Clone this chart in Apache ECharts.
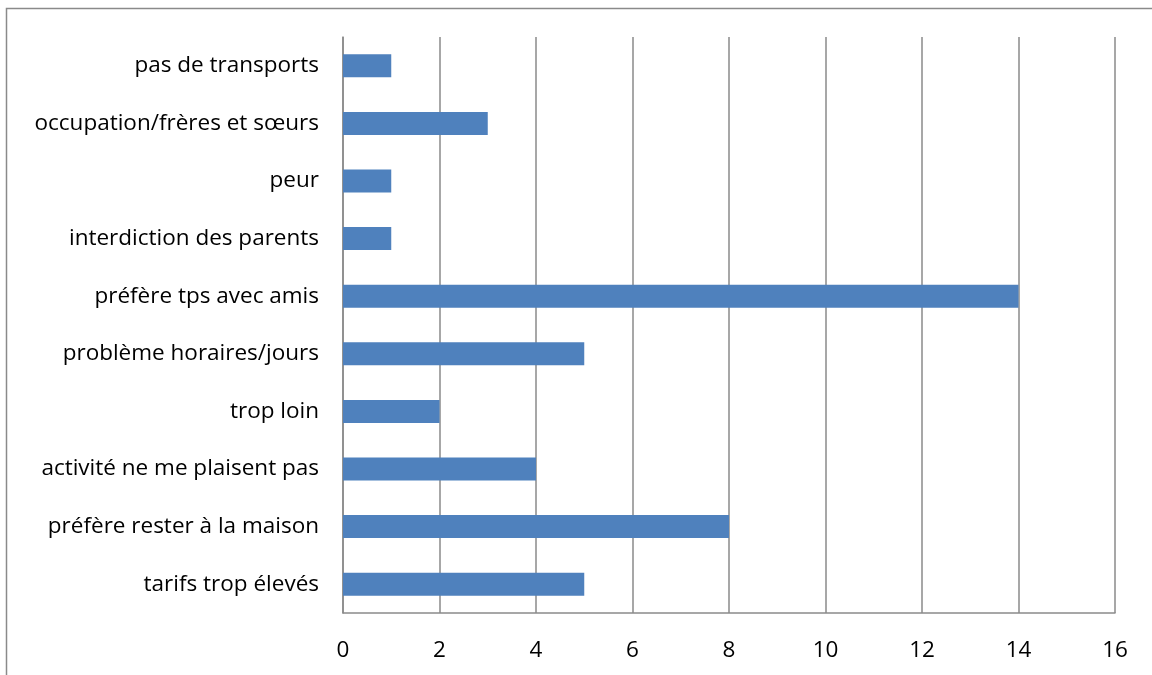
<!DOCTYPE html>
<html><head><meta charset="utf-8">
<script src="https://cdn.jsdelivr.net/npm/echarts@6/dist/echarts.min.js"></script>
<style>html,body{margin:0;padding:0;background:#fff}#c{width:1152px;height:675px}</style>
</head><body><div id="c"></div>
<script>
const categories = ["tarifs trop élevés","préfère rester à la maison","activité ne me plaisent pas","trop loin","problème horaires/jours","préfère tps avec amis","interdiction des parents","peur","occupation/frères et sœurs","pas de transports"];
const values = [5,8,4,2,5,14,1,1,3,1];
const xTicks = {min:0,max:16,interval:2};
const chart = echarts.init(document.getElementById('c'));
chart.setOption({
  animation:false,
  graphic:[{type:'rect',shape:{x:6.5,y:8.5,width:1160,height:700},style:{fill:'none',stroke:'#8a8a8a',lineWidth:1.5}}],
  grid:{left:343,right:37,top:37,bottom:62},
  xAxis:{type:'value',min:xTicks.min,max:xTicks.max,interval:xTicks.interval,
    axisLine:{show:true,lineStyle:{color:'#8a8a8a',width:1.5}},axisTick:{show:false},
    splitLine:{show:true,lineStyle:{color:'#8a8a8a',width:1.5}},
    axisLabel:{color:'#000',fontFamily:'Open Sans',fontSize:22.5,margin:26}},
  yAxis:{type:'category',data:categories,
    axisLine:{show:true,lineStyle:{color:'#8a8a8a',width:1.5}},axisTick:{show:false},
    axisLabel:{color:'#000',fontFamily:'Open Sans',fontSize:22.5,margin:24}},
  series:[{type:'bar',data:values,barWidth:'40%',itemStyle:{color:'#4F81BD'}}]
});
</script></body></html>
